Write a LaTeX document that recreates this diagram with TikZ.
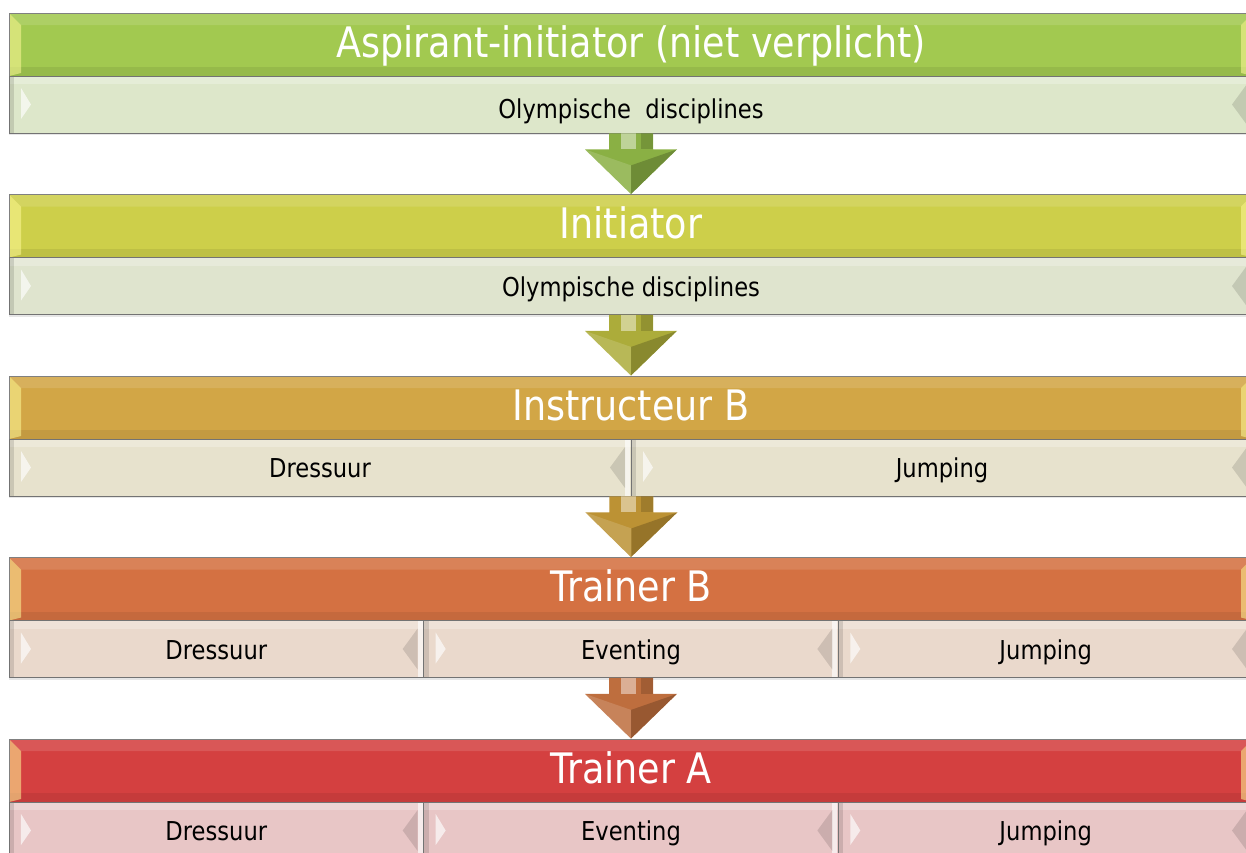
\documentclass[tikz,border=0pt]{standalone}
\usepackage{fontspec}
\setmainfont[FakeStretch=0.87]{DejaVu Sans}
\usetikzlibrary{shadows}

\definecolor{hdrA}{RGB}{162,201,80}
\definecolor{subA}{RGB}{221,231,202}
\definecolor{arrA}{RGB}{138,176,68}
\definecolor{hdrB}{RGB}{205,207,74}
\definecolor{subB}{RGB}{223,228,206}
\definecolor{arrB}{RGB}{172,172,58}
\definecolor{hdrC}{RGB}{210,166,70}
\definecolor{subC}{RGB}{231,226,205}
\definecolor{arrC}{RGB}{188,146,52}
\definecolor{hdrD}{RGB}{212,113,66}
\definecolor{subD}{RGB}{234,217,204}
\definecolor{arrD}{RGB}{190,110,62}
\definecolor{hdrE}{RGB}{212,64,64}
\definecolor{subE}{RGB}{232,198,198}

\newcommand{\ppbb}{path picture bounding box}

\begin{document}
\begin{tikzpicture}[x=1pt, y=-1pt]
			% Define styles
			\tikzstyle{level} = [rectangle, minimum width=1244pt, minimum height=63pt, draw=black!50, line width=0.8pt, text=white, font=\fontsize{42}{50}\selectfont, text height=31pt, text depth=5.5pt, path picture={
				\fill[white, opacity=.12] (\ppbb.north west) -- (\ppbb.north east) -- ([xshift=-12pt,yshift=-12pt]\ppbb.north east) -- ([xshift=12pt,yshift=-12pt]\ppbb.north west) -- cycle;
				\fill[black, opacity=.07] ([yshift=9pt]\ppbb.south west) rectangle (\ppbb.south east);
				\fill[yellow!40!white, opacity=.55] (\ppbb.north west) -- ([xshift=12pt,yshift=-12pt]\ppbb.north west) -- ([xshift=12pt,yshift=3pt]\ppbb.south west) -- (\ppbb.south west) -- cycle;
				\fill[yellow!40!white, opacity=.55] (\ppbb.north east) -- ([xshift=-12pt,yshift=-12pt]\ppbb.north east) -- ([xshift=-12pt,yshift=3pt]\ppbb.south east) -- (\ppbb.south east) -- cycle;}]
			\tikzstyle{cell} = [rectangle, minimum height=57pt, draw=black!55, line width=0.8pt, text=black, font=\fontsize{26}{30}\selectfont, text height=20pt, text depth=0pt, drop shadow={opacity=.2, shadow xshift=0pt, shadow yshift=-2pt}, path picture={
				\fill[white, opacity=.25] (\ppbb.north west) rectangle ([yshift=-8pt]\ppbb.north east);
				\fill[black, opacity=.12] (\ppbb.north west) rectangle ([xshift=5pt]\ppbb.south west);
				\fill[white, opacity=.65] ([xshift=12pt,yshift=-12pt]\ppbb.north west) -- ([xshift=22pt]\ppbb.west) -- ([xshift=12pt,yshift=14pt]\ppbb.south west) -- cycle;
				\fill[white, opacity=.65] ([xshift=-6pt]\ppbb.north east) rectangle ([xshift=-1pt]\ppbb.south east);
				\fill[black, opacity=.12] ([xshift=-6pt,yshift=-8pt]\ppbb.north east) -- ([xshift=-21pt]\ppbb.east) -- ([xshift=-6pt,yshift=8pt]\ppbb.south east) -- cycle;}]
			\tikzstyle{blockarrow} = [to path={-- ([xshift=22pt]\tikztostart) -- ([xshift=22pt,yshift=-16pt]\tikztostart) -- ([xshift=46pt,yshift=-16pt]\tikztostart) -- (\tikztotarget) -- ([xshift=-46pt,yshift=-16pt]\tikztostart) -- ([xshift=-22pt,yshift=-16pt]\tikztostart) -- ([xshift=-22pt]\tikztostart) -- cycle}, path picture={
				\fill[white, opacity=.45] ([xshift=-10pt]\ppbb.north) rectangle ([xshift=5pt,yshift=-16pt]\ppbb.north);
				\fill[black, opacity=.15] ([xshift=10pt]\ppbb.north) rectangle ([xshift=22pt,yshift=-16pt]\ppbb.north);
				\fill[white, opacity=.15] ([yshift=-16pt]\ppbb.north west) -- ([yshift=-32pt]\ppbb.north) -- (\ppbb.south) -- cycle;
				\fill[black, opacity=.2] ([yshift=-16pt]\ppbb.north east) -- ([yshift=-32pt]\ppbb.north) -- (\ppbb.south) -- cycle;}]

			\useasboundingbox (0,0) rectangle (1246,852);

			% Nodes
			\node (h1) [level, fill=hdrA] at (631,44.5) {Aspirant-initiator (niet verplicht)};
			\node (s1) [cell, fill=subA, minimum width=1244pt, text height=28pt] at (631,104.5) {Olympische\ \ disciplines};

			\node (h2) [level, fill=hdrB] at (631,226) {Initiator};
			\node (s2) [cell, fill=subB, minimum width=1244pt] at (631,286) {Olympische disciplines};

			\node (h3) [level, fill=hdrC] at (631,407.5) {Instructeur B};
			\node (s3a) [cell, fill=subC, minimum width=622pt] at (320,467.5) {Dressuur};
			\node (s3b) [cell, fill=subC, minimum width=622pt] at (942,467.5) {Jumping};

			\node (h4) [level, fill=hdrD] at (631,589) {Trainer B};
			\node (s4a) [cell, fill=subD, minimum width=414.67pt] at (216.33,649) {Dressuur};
			\node (s4b) [cell, fill=subD, minimum width=414.67pt] at (631,649) {Eventing};
			\node (s4c) [cell, fill=subD, minimum width=414.67pt] at (1045.67,649) {Jumping};

			\node (h5) [level, fill=hdrE] at (631,770.5) {Trainer A};
			\node (s5a) [cell, fill=subE, minimum width=414.67pt] at (216.33,830.5) {Dressuur};
			\node (s5b) [cell, fill=subE, minimum width=414.67pt] at (631,830.5) {Eventing};
			\node (s5c) [cell, fill=subE, minimum width=414.67pt] at (1045.67,830.5) {Jumping};

			% Arrows
			\fill [blockarrow, fill=arrA] (s1.south) to (h2.north);
			\fill [blockarrow, fill=arrB] (s2.south) to (h3.north);
			\fill [blockarrow, fill=arrC] (s3a.south east) to (h4.north);
			\fill [blockarrow, fill=arrD] (s4b.south) to (h5.north);
		\end{tikzpicture}
\end{document}
